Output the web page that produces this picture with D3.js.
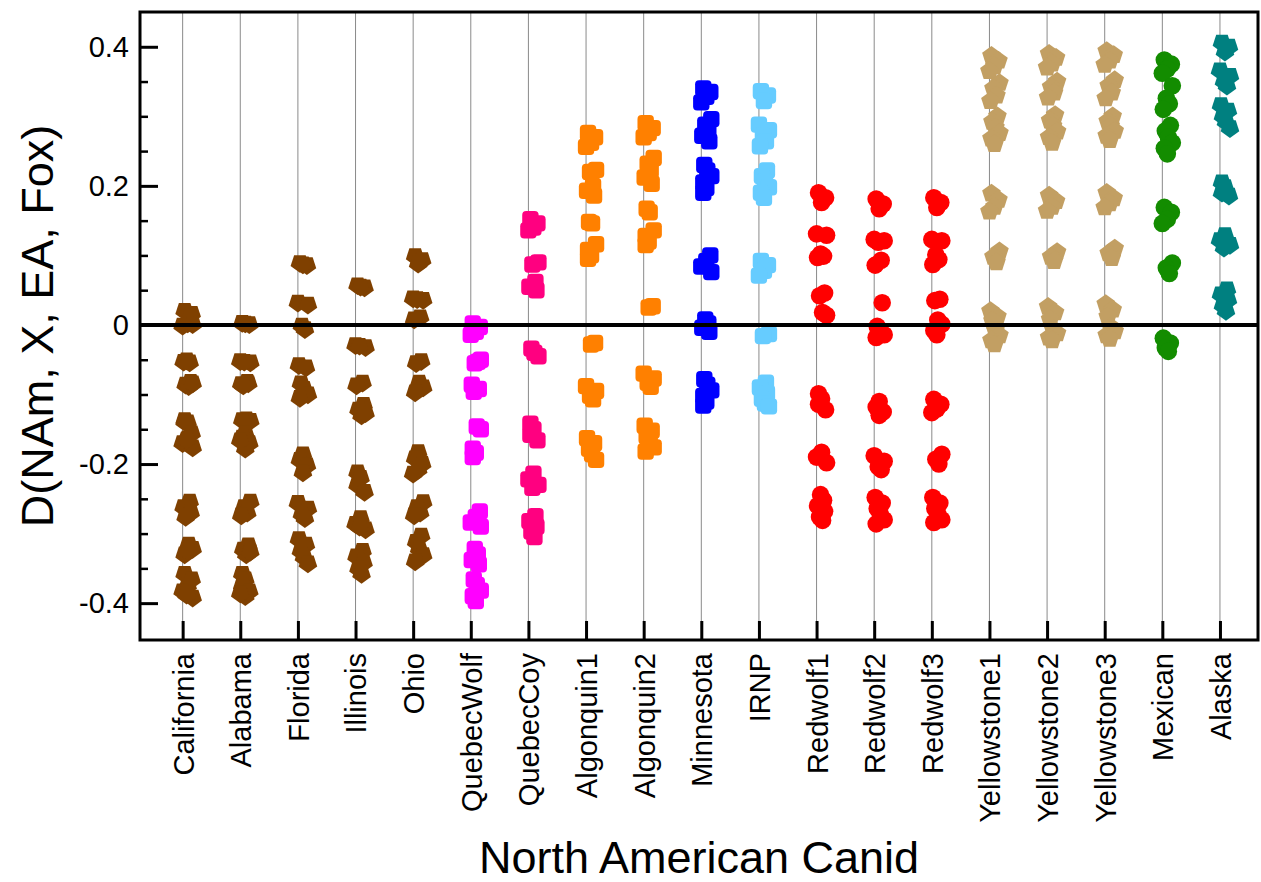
<!DOCTYPE html>
<html>
<head>
<meta charset="utf-8">
<script src="https://cdn.jsdelivr.net/npm/d3@7"></script>
<style>
  html, body { margin: 0; padding: 0; background: #fff; }
  svg { display: block; }
  text { font-family: "Liberation Sans", Arial, Helvetica, sans-serif; fill: #000; }
</style>
</head>
<body>
<svg id="chart" width="1261" height="882"></svg>
<script>
// Canid populations along the x axis
const categories = ["California", "Alabama", "Florida", "Illinois", "Ohio",
  "QuebecWolf", "QuebecCoy", "Algonquin1", "Algonquin2", "Minnesota", "IRNP",
  "Redwolf1", "Redwolf2", "Redwolf3", "Yellowstone1", "Yellowstone2",
  "Yellowstone3", "Mexican", "Alaska"];

// D(NAm, X, EA, Fox) values per population
const california   = [0.020, 0.016, 0.002, -0.001, 0.001, -0.051, -0.054, -0.053, -0.082, -0.086, -0.088, -0.084, -0.137, -0.140, -0.139, -0.156, -0.163, -0.170, -0.176, -0.165, -0.254, -0.262, -0.270, -0.276, -0.316, -0.322, -0.330, -0.325, -0.358, -0.366, -0.375, -0.383, -0.392, -0.388];
const alabama      = [0.003, 0.001, 0.002, -0.052, -0.054, -0.053, -0.082, -0.085, -0.084, -0.087, -0.136, -0.138, -0.137, -0.156, -0.162, -0.170, -0.178, -0.166, -0.254, -0.262, -0.270, -0.274, -0.317, -0.323, -0.330, -0.326, -0.358, -0.366, -0.375, -0.383, -0.390, -0.386];
const florida      = [0.089, 0.086, 0.087, 0.032, 0.029, -0.001, -0.006, -0.058, -0.061, -0.084, -0.092, -0.100, -0.105, -0.186, -0.194, -0.202, -0.212, -0.256, -0.264, -0.272, -0.278, -0.308, -0.316, -0.325, -0.334, -0.343];
const illinois     = [0.057, 0.054, 0.055, -0.029, -0.032, -0.030, -0.083, -0.087, -0.115, -0.122, -0.130, -0.127, -0.212, -0.220, -0.230, -0.240, -0.278, -0.286, -0.294, -0.290, -0.325, -0.333, -0.342, -0.350, -0.358];
const ohio         = [0.099, 0.093, 0.088, 0.038, 0.036, 0.037, 0.011, 0.008, -0.052, -0.055, -0.083, -0.090, -0.097, -0.183, -0.192, -0.200, -0.208, -0.214, -0.255, -0.262, -0.270, -0.274, -0.303, -0.312, -0.322, -0.331, -0.340];
const quebecWolf   = [0.002, -0.003, -0.010, -0.014, -0.050, -0.055, -0.053, -0.086, -0.092, -0.096, -0.146, -0.150, -0.178, -0.184, -0.190, -0.268, -0.276, -0.284, -0.290, -0.322, -0.330, -0.338, -0.344, -0.366, -0.374, -0.382, -0.390, -0.397];
const quebecCoy    = [0.152, 0.146, 0.140, 0.136, 0.090, 0.087, 0.062, 0.055, 0.050, -0.034, -0.040, -0.045, -0.142, -0.150, -0.158, -0.166, -0.214, -0.222, -0.230, -0.234, -0.275, -0.282, -0.290, -0.297, -0.305];
const algonquin1   = [0.276, 0.270, 0.262, 0.256, 0.223, 0.220, 0.200, 0.193, 0.186, 0.148, 0.146, 0.116, 0.108, 0.100, 0.095, -0.026, -0.028, -0.088, -0.095, -0.102, -0.107, -0.163, -0.170, -0.178, -0.186, -0.194];
const algonquin2   = [0.290, 0.283, 0.276, 0.270, 0.240, 0.232, 0.222, 0.212, 0.203, 0.167, 0.162, 0.136, 0.128, 0.120, 0.115, 0.027, 0.025, -0.070, -0.077, -0.083, -0.089, -0.145, -0.152, -0.160, -0.168, -0.176, -0.182];
const minnesota    = [0.340, 0.335, 0.328, 0.320, 0.296, 0.288, 0.280, 0.272, 0.264, 0.230, 0.222, 0.214, 0.205, 0.197, 0.190, 0.100, 0.092, 0.084, 0.076, 0.008, 0.002, -0.004, -0.010, -0.078, -0.086, -0.094, -0.102, -0.110, -0.116];
const irnp         = [0.336, 0.330, 0.322, 0.288, 0.280, 0.272, 0.264, 0.257, 0.222, 0.214, 0.206, 0.198, 0.190, 0.183, 0.092, 0.086, 0.078, 0.071, -0.013, -0.016, -0.083, -0.090, -0.098, -0.106, -0.113, -0.117];
const redwolf1     = [0.190, 0.183, 0.176, 0.131, 0.129, 0.102, 0.099, 0.097, 0.046, 0.042, 0.018, 0.014, -0.099, -0.106, -0.114, -0.122, -0.183, -0.190, -0.198, -0.244, -0.252, -0.260, -0.268, -0.276, -0.281];
const redwolf2     = [0.181, 0.174, 0.167, 0.123, 0.121, 0.119, 0.093, 0.086, 0.032, -0.002, -0.008, -0.014, -0.018, -0.110, -0.118, -0.125, -0.130, -0.188, -0.196, -0.204, -0.208, -0.248, -0.256, -0.264, -0.272, -0.280, -0.286];
const redwolf3     = [0.183, 0.176, 0.169, 0.123, 0.121, 0.101, 0.094, 0.087, 0.037, 0.035, 0.007, 0.001, -0.008, -0.014, -0.107, -0.114, -0.121, -0.126, -0.186, -0.193, -0.200, -0.248, -0.256, -0.264, -0.272, -0.280, -0.284];
const yellowstone1 = [0.387, 0.380, 0.372, 0.365, 0.348, 0.340, 0.330, 0.322, 0.300, 0.292, 0.284, 0.276, 0.268, 0.260, 0.189, 0.180, 0.170, 0.163, 0.106, 0.098, 0.090, 0.020, 0.012, 0.006, -0.008, -0.015, -0.022, -0.028];
const yellowstone2 = [0.390, 0.384, 0.376, 0.370, 0.350, 0.342, 0.334, 0.327, 0.302, 0.294, 0.286, 0.278, 0.270, 0.262, 0.186, 0.178, 0.170, 0.164, 0.105, 0.098, 0.092, 0.026, 0.018, 0.008, -0.006, -0.012, -0.018, -0.022];
const yellowstone3 = [0.394, 0.388, 0.380, 0.374, 0.352, 0.344, 0.334, 0.326, 0.300, 0.293, 0.286, 0.279, 0.272, 0.266, 0.190, 0.182, 0.175, 0.169, 0.110, 0.103, 0.096, 0.030, 0.022, 0.012, -0.003, -0.009, -0.015, -0.020];
const mexican      = [0.381, 0.375, 0.368, 0.362, 0.344, 0.326, 0.318, 0.310, 0.287, 0.279, 0.270, 0.262, 0.254, 0.246, 0.169, 0.162, 0.152, 0.146, 0.089, 0.082, 0.074, -0.019, -0.026, -0.033, -0.038];
const alaska       = [0.406, 0.400, 0.393, 0.366, 0.358, 0.350, 0.344, 0.316, 0.308, 0.300, 0.292, 0.283, 0.205, 0.198, 0.190, 0.186, 0.129, 0.122, 0.115, 0.111, 0.051, 0.044, 0.036, 0.028, 0.020];

const seriesValues = [california, alabama, florida, illinois, ohio, quebecWolf,
  quebecCoy, algonquin1, algonquin2, minnesota, irnp, redwolf1, redwolf2,
  redwolf3, yellowstone1, yellowstone2, yellowstone3, mexican, alaska];

// Population colours
const seriesColors = ["#7f4000", "#7f4000", "#7f4000", "#7f4000", "#7f4000",
  "#ff00ff", "#ff0080", "#ff8000", "#ff8000", "#0000ff", "#66ccff",
  "#ff0000", "#ff0000", "#ff0000", "#c29f63", "#c29f63", "#c29f63",
  "#138c00", "#008080"];

// Marker shape per population
const seriesShapes = ["pentDown", "pentDown", "pentDown", "pentDown", "pentDown",
  "square", "square", "square", "square", "square", "square",
  "circle", "circle", "circle", "pentUp", "pentUp", "pentUp",
  "circle", "pentDown"];

const yTicksMajor = [0.4, 0.2, 0, -0.2, -0.4];
const yTicksMinor = [0.35, 0.3, 0.25, 0.15, 0.1, 0.05, -0.05, -0.1, -0.15, -0.25, -0.3, -0.35];

// ---- layout ----
const plot = { left: 140, right: 1258, top: 12, bottom: 640 };
const svg = d3.select("#chart");

const x = d3.scaleLinear().domain([-0.74, categories.length - 1 + 0.66]).range([plot.left, plot.right]);
const y = d3.scaleLinear().domain([-0.453, 0.45]).range([plot.bottom, plot.top]);

// horizontal spread of the points around each population line
const JITTER = [2, 9, 5, 0, 10, 4, 7, 1, 8, 3, 6, 10, 2, 5];

// vertical guide lines
svg.append("g").selectAll("line").data(categories).join("line")
  .attr("x1", (d, i) => x(i)).attr("x2", (d, i) => x(i))
  .attr("y1", plot.top).attr("y2", plot.bottom)
  .attr("stroke", "#8a8a8a").attr("stroke-width", 1);

// marker shapes
const R = 9.8;
function polygon(n, r, rot) {
  const pts = d3.range(n).map(k => {
    const a = rot + k * 2 * Math.PI / n;
    return [r * Math.cos(a), r * Math.sin(a)];
  });
  return "M" + pts.map(p => p[0].toFixed(2) + "," + p[1].toFixed(2)).join("L") + "Z";
}
const shapePaths = {
  pentUp: polygon(5, R, -Math.PI / 2),
  pentDown: polygon(5, R, Math.PI / 2),
  circle: d3.symbol(d3.symbolCircle, Math.PI * 8.8 * 8.8)(),
  square: "M-8.2,-4.2Q-8.2,-8.2,-4.2,-8.2L4.2,-8.2Q8.2,-8.2,8.2,-4.2L8.2,4.2Q8.2,8.2,4.2,8.2L-4.2,8.2Q-8.2,8.2,-8.2,4.2Z"
};

const points = [];
seriesValues.forEach((vals, ci) => {
  vals.forEach((v, k) => points.push({ ci, k, v }));
});

svg.append("g").selectAll("path").data(points).join("path")
  .attr("d", d => shapePaths[seriesShapes[d.ci]])
  .attr("transform", d => `translate(${x(d.ci) + JITTER[d.k % JITTER.length]},${y(d.v)})`)
  .attr("fill", d => seriesColors[d.ci]);

// zero line
svg.append("line")
  .attr("x1", plot.left).attr("x2", plot.right)
  .attr("y1", y(0)).attr("y2", y(0))
  .attr("stroke", "#000").attr("stroke-width", 4);

// y axis: major ticks with labels, minor ticks inward
const yAxis = d3.axisLeft(y).tickValues(yTicksMajor).tickSize(-18).tickPadding(11)
  .tickFormat(d => d === 0 ? "0" : d.toFixed(1));
const gy = svg.append("g").attr("transform", `translate(${plot.left},0)`).call(yAxis);
gy.select(".domain").remove();
gy.selectAll(".tick line").attr("stroke", "#000").attr("stroke-width", 3);
gy.selectAll(".tick text").attr("font-size", 29).attr("font-family", null);

const gyMinor = svg.append("g").attr("transform", `translate(${plot.left},0)`)
  .call(d3.axisLeft(y).tickValues(yTicksMinor).tickSize(-8).tickFormat(""));
gyMinor.select(".domain").remove();
gyMinor.selectAll(".tick line").attr("stroke", "#000").attr("stroke-width", 2.5);

// x axis: inward ticks and rotated population labels
const xAxis = d3.axisBottom(x).tickValues(d3.range(categories.length))
  .tickSize(-19).tickFormat(i => categories[i]);
const gx = svg.append("g").attr("transform", `translate(0,${plot.bottom})`).call(xAxis);
gx.select(".domain").remove();
gx.selectAll(".tick line").attr("stroke", "#000").attr("stroke-width", 3);
gx.selectAll(".tick text")
  .attr("font-size", 29).attr("font-family", null)
  .attr("text-anchor", "end")
  .attr("transform", "translate(0,13) rotate(-90)")
  .attr("x", 0).attr("y", 0).attr("dy", "0.36em");

// frame
svg.append("rect")
  .attr("x", plot.left).attr("y", plot.top)
  .attr("width", plot.right - plot.left).attr("height", plot.bottom - plot.top)
  .attr("fill", "none").attr("stroke", "#000").attr("stroke-width", 3);

// axis titles
svg.append("text")
  .attr("transform", `translate(53,${(plot.top + plot.bottom) / 2}) rotate(-90)`)
  .attr("text-anchor", "middle").attr("font-size", 45)
  .text("D(NAm, X, EA, Fox)");

svg.append("text")
  .attr("x", (plot.left + plot.right) / 2).attr("y", 873)
  .attr("text-anchor", "middle").attr("font-size", 45)
  .text("North American Canid");
</script>
</body>
</html>
